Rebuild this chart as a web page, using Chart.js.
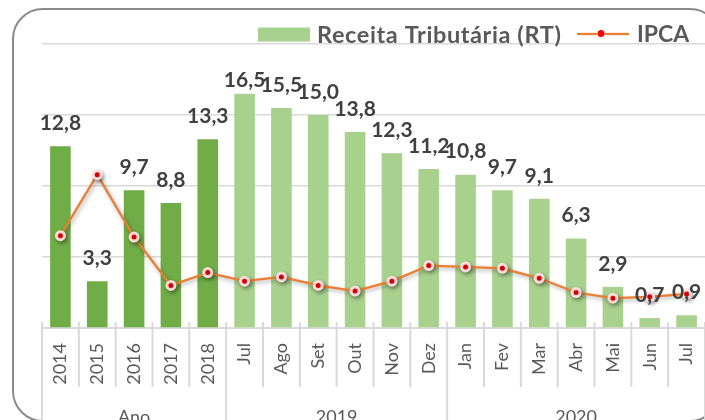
<!DOCTYPE html>
<html>
<head>
<meta charset="utf-8">
<script src="https://cdn.jsdelivr.net/npm/chart.js@4.4.1/dist/chart.umd.min.js"></script>
<style>
  html, body { margin: 0; padding: 0; background: #ffffff; overflow: hidden; }
  #wrap { position: relative; width: 705px; height: 420px; overflow: hidden; background: #fff; }
  #cv { position: absolute; left: 0; top: 0; }
</style>
</head>
<body>
<div id="wrap">
  <canvas id="cv" width="712" height="440" style="width:712px;height:440px"></canvas>
</div>
<script>
// ---- data ----
const categories = ['2014','2015','2016','2017','2018','Jul','Ago','Set','Out','Nov','Dez','Jan','Fev','Mar','Abr','Mai','Jun','Jul'];
const receitaRT = [12.8, 3.3, 9.7, 8.8, 13.3, 16.5, 15.5, 15.0, 13.8, 12.3, 11.2, 10.8, 9.7, 9.1, 6.3, 2.9, 0.7, 0.9];
const ipca = [6.5, 10.8, 6.4, 3.0, 3.9, 3.3, 3.6, 3.0, 2.6, 3.3, 4.4, 4.3, 4.2, 3.5, 2.5, 2.1, 2.2, 2.4];
const groupLabels = ['Ano', '2019', '2020'];
const groupSizes = [5, 6, 7];
const yMin = 0, yMax = 20, yStep = 5;
const seriesNames = ['Receita Tributária (RT)', 'IPCA'];

// ---- styles ----
const darkGreen = '#70AD47';
const lightGreen = '#A9D18E';
const orange = '#ED7D31';
const gridColor = '#d9d9d9';
const textGray = '#595959';
const labelGray = '#404040';
const FONT = 'Lato, "Open Sans", sans-serif';

const barColors = receitaRT.map((v, i) => (i < groupSizes[0] ? darkGreen : lightGreen));

const framePlugin = {
  id: 'frame',
  beforeDraw(chart) {
    const ctx = chart.ctx;
    ctx.save();
    ctx.fillStyle = '#ffffff';
    ctx.fillRect(0, 0, chart.width, chart.height);
    ctx.strokeStyle = '#8a8a8a';
    ctx.lineWidth = 2;
    ctx.beginPath();
    ctx.roundRect(13, 9, 707, 412, 30);
    ctx.stroke();
    ctx.restore();
  }
};

const shadowPlugin = {
  id: 'lineShadow',
  beforeDatasetDraw(chart, args) {
    if (chart.data.datasets[args.index].type === 'line') {
      const ctx = chart.ctx;
      ctx.save();
      ctx.shadowColor = 'rgba(0,0,0,0.35)';
      ctx.shadowBlur = 4;
      ctx.shadowOffsetX = 1.5;
      ctx.shadowOffsetY = 2;
    }
  },
  afterDatasetDraw(chart, args) {
    if (chart.data.datasets[args.index].type === 'line') chart.ctx.restore();
  }
};

const axisDecor = {
  id: 'axisDecor',
  afterDraw(chart) {
    const ctx = chart.ctx;
    const xs = chart.scales.x;
    const area = chart.chartArea;
    const n = categories.length;
    const w = (area.right - area.left) / n;
    const bounds = new Set([0]);
    let acc = 0;
    groupSizes.forEach(s => { acc += s; bounds.add(acc); });
    ctx.save();
    ctx.strokeStyle = gridColor;
    ctx.lineWidth = 2;
    for (let i = 0; i <= n; i++) {
      const x = xs.getPixelForValue(i) - w / 2;
      ctx.beginPath();
      ctx.moveTo(x, area.bottom - 6);
      ctx.lineTo(x, bounds.has(i) ? chart.height : area.bottom + 59);
      ctx.stroke();
    }
    ctx.fillStyle = textGray;
    ctx.font = '18px ' + FONT;
    ctx.textAlign = 'center';
    ctx.textBaseline = 'middle';
    let start = 0;
    groupLabels.forEach((g, k) => {
      const x0 = xs.getPixelForValue(start) - w / 2;
      const x1 = xs.getPixelForValue(start + groupSizes[k] - 1) + w / 2;
      ctx.fillText(g, (x0 + x1) / 2, area.bottom + 89);
      start += groupSizes[k];
    });
    ctx.restore();

    // data labels
    const meta = chart.getDatasetMeta(1);
    ctx.save();
    ctx.fillStyle = labelGray;
    ctx.font = 'bold 21px ' + FONT;
    ctx.textAlign = 'center';
    ctx.textBaseline = 'middle';
    meta.data.forEach((el, i) => {
      const y = Math.max(el.y - 23, area.top + 36);
      ctx.fillText(receitaRT[i].toFixed(1).replace('.', ','), el.x, y);
    });
    ctx.restore();

    // legend
    ctx.save();
    ctx.textBaseline = 'middle';
    ctx.textAlign = 'left';
    ctx.fillStyle = lightGreen;
    ctx.fillRect(258, 27.5, 52, 14);
    ctx.fillStyle = textGray;
    ctx.font = 'bold 23.5px ' + FONT;
    ctx.letterSpacing = '0.6px';
    ctx.fillText(seriesNames[0], 317, 35);
    ctx.letterSpacing = '0px';
    ctx.strokeStyle = orange;
    ctx.lineWidth = 2.25;
    ctx.beginPath(); ctx.moveTo(577, 34); ctx.lineTo(597, 34); ctx.stroke();
    ctx.beginPath(); ctx.moveTo(605, 34); ctx.lineTo(629, 34); ctx.stroke();
    ctx.fillStyle = '#ff0000';
    ctx.beginPath(); ctx.arc(601, 33.5, 3.5, 0, Math.PI * 2); ctx.fill();
    ctx.fillStyle = textGray;
    ctx.font = 'bold 23px ' + FONT;
    ctx.fillText(seriesNames[1], 637, 35);
    ctx.restore();
  }
};

new Chart(document.getElementById('cv'), {
  data: {
    labels: categories,
    datasets: [
      {
        type: 'line',
        label: seriesNames[1],
        data: ipca,
        borderColor: orange,
        borderWidth: 2.25,
        tension: 0,
        pointRadius: 4,
        pointBackgroundColor: '#ff0000',
        pointBorderColor: 'rgba(255,225,225,0.95)',
        pointBorderWidth: 3,
        order: 1
      },
      {
        type: 'bar',
        label: seriesNames[0],
        data: receitaRT,
        backgroundColor: barColors,
        categoryPercentage: 1,
        barPercentage: 0.56,
        order: 2
      }
    ]
  },
  options: {
    responsive: false,
    animation: false,
    layout: { padding: { left: 42, right: 3, top: 44, bottom: 0 } },
    plugins: { legend: { display: false }, tooltip: { enabled: false } },
    scales: {
      x: {
        grid: { display: false, drawOnChartArea: false, drawTicks: false },
        border: { display: true, color: gridColor, width: 2 },
        ticks: {
          minRotation: 90, maxRotation: 90, padding: 15, autoSkip: false,
          color: textGray, font: { family: FONT, size: 18 }
        },
        afterFit(s) { s.height = 112; s.paddingLeft = 0; s.paddingRight = 0; }
      },
      y: {
        min: yMin, max: yMax,
        ticks: { display: false, stepSize: yStep },
        grid: { color: gridColor, lineWidth: 1.5, drawTicks: false },
        border: { display: false },
        afterFit(s) { s.width = 0; s.paddingTop = 0; s.paddingBottom = 0; }
      }
    }
  },
  plugins: [framePlugin, shadowPlugin, axisDecor]
});
</script>
</body>
</html>
